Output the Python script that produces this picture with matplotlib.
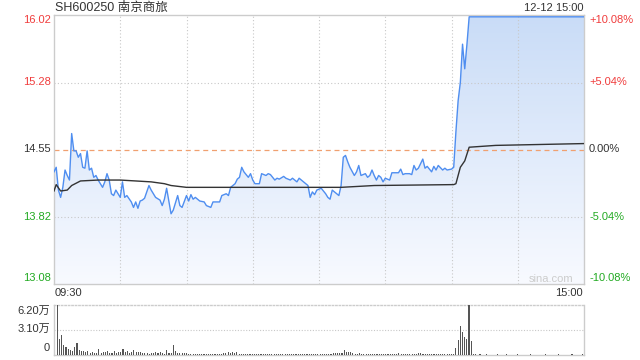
import numpy as np
import matplotlib
matplotlib.use("Agg")
import matplotlib.pyplot as plt
from matplotlib.colors import LinearSegmentedColormap

plt.rcParams['font.family'] = ['Liberation Sans', 'Noto Sans CJK SC', 'DejaVu Sans']

# price readings (minute index from 09:30, price)
price_min = [0, 1, 2, 3, 4, 5, 6, 7, 8, 9, 10, 11, 12, 13, 14, 15, 16, 17, 18, 19, 20, 22, 23, 24, 25,
             26, 27, 28, 30, 31, 32, 33, 35, 36, 37, 38, 39, 40, 41, 43, 44, 46, 48, 49, 50, 51, 53, 54,
             56, 57, 58, 60, 61, 62, 63, 64, 66, 68, 69, 71, 72, 74, 75, 76, 78, 79, 80, 82, 83, 84, 85,
             86, 88, 89, 90, 91, 93, 94, 96, 97, 98, 100, 101, 102, 104, 105, 107, 108, 110, 111, 113,
             115, 116, 117, 118, 119, 121, 123, 124, 125, 126, 128, 129, 130, 131, 132, 133, 134, 136,
             137, 138, 139, 141, 142, 143, 144, 145, 146, 147, 148, 149, 150, 152, 153, 156, 157, 158,
             159, 161, 162, 163, 164, 165, 167, 168, 169, 171, 172, 173, 174, 176, 177, 178, 180, 181,
             182, 183, 184, 185, 186, 187, 188, 240]
price = [14.31, 14.36, 14.11, 14.03, 14.14, 14.33, 14.27, 14.22, 14.73, 14.54, 14.54, 14.47, 14.51,
         14.36, 14.35, 14.54, 14.33, 14.35, 14.25, 14.27, 14.22, 14.14, 14.20, 14.29, 14.22, 14.07,
         14.05, 14.11, 14.03, 14.20, 14.03, 14.05, 13.98, 13.92, 13.98, 13.91, 13.99, 14.00, 14.02,
         14.16, 14.11, 14.03, 14.00, 13.94, 14.01, 14.13, 13.85, 13.89, 14.05, 13.94, 13.92, 14.05,
         13.99, 14.06, 14.01, 14.03, 13.99, 13.98, 13.94, 13.92, 13.98, 13.98, 13.98, 14.05, 14.07,
         14.05, 14.14, 14.18, 14.23, 14.25, 14.36, 14.31, 14.25, 14.29, 14.22, 14.18, 14.18, 14.29,
         14.27, 14.29, 14.28, 14.22, 14.24, 14.23, 14.26, 14.24, 14.22, 14.24, 14.20, 14.24, 14.20,
         14.16, 14.03, 14.09, 14.06, 14.11, 14.13, 14.07, 14.03, 14.01, 14.11, 14.07, 14.05, 14.16,
         14.47, 14.49, 14.42, 14.36, 14.27, 14.31, 14.38, 14.27, 14.29, 14.25, 14.27, 14.33, 14.27,
         14.22, 14.27, 14.25, 14.20, 14.24, 14.22, 14.30, 14.30, 14.34, 14.28, 14.29, 14.29, 14.28,
         14.38, 14.33, 14.35, 14.45, 14.35, 14.37, 14.31, 14.37, 14.33, 14.38, 14.33, 14.35, 14.33,
         14.34, 14.36, 14.75, 15.09, 15.29, 15.71, 15.44, 15.71, 16.01, 16.01]

# average price line
avg_min = [0, 1, 3, 6, 8, 12, 20, 30, 44, 50, 53, 60, 100, 130, 145, 181, 182, 184, 186, 188, 200, 240]
avg = [14.10, 14.17, 14.10, 14.11, 14.16, 14.21, 14.22, 14.22, 14.20, 14.18, 14.16, 14.14, 14.14,
       14.14, 14.16, 14.17, 14.18, 14.36, 14.43, 14.58, 14.60, 14.62]

# volume per minute (万)
volume = [6.20, 1.98, 2.48, 1.24, 0.95, 0.74, 0.62, 0.50, 1.03, 1.45,
          0.62, 0.50, 0.50, 0.40, 0.50, 0.25, 0.33, 0.29, 0.29, 0.74,
          0.25, 0.33, 0.41, 0.50, 0.29, 0.21, 0.50, 0.29, 0.33, 0.41,
          0.74, 0.41, 0.50, 0.29, 0.41, 0.62, 0.41, 0.41, 0.41, 0.20,
          0.20, 0.25, 0.15, 0.20, 0.29, 0.33, 0.25, 0.40, 0.20, 0.17,
          0.62, 0.30, 0.25, 1.24, 0.50, 0.30, 0.30, 0.25, 0.20, 0.20,
          0.15, 0.12, 0.18, 0.10, 0.12, 0.15, 0.10, 0.12, 0.10, 0.08,
          0.10, 0.15, 0.12, 0.10, 0.10, 0.12, 0.20, 0.25, 0.33, 0.29,
          0.41, 0.25, 0.33, 0.12, 0.10, 0.15, 0.12, 0.10, 0.12, 0.10,
          0.15, 0.10, 0.12, 0.10, 0.10, 0.08, 0.12, 0.15, 0.10, 0.12,
          0.10, 0.12, 0.15, 0.10, 0.08, 0.10, 0.12, 0.10, 0.15, 0.12,
          0.10, 0.12, 0.10, 0.08, 0.10, 0.10, 0.12, 0.15, 0.10, 0.10,
          0.12, 0.10, 0.15, 0.10, 0.12, 0.10, 0.20, 0.25, 0.20, 0.30,
          0.25, 0.62, 0.41, 0.41, 0.33, 0.20, 0.15, 0.12, 0.20, 0.15,
          0.12, 0.10, 0.15, 0.10, 0.10, 0.12, 0.15, 0.10, 0.12, 0.10,
          0.15, 0.10, 0.12, 0.10, 0.15, 0.12, 0.20, 0.15, 0.10, 0.12,
          0.10, 0.12, 0.15, 0.10, 0.12, 0.25, 0.20, 0.15, 0.10, 0.12,
          0.10, 0.12, 0.10, 0.08, 0.10, 0.12, 0.10, 0.15, 0.12, 0.10,
          0.15, 0.10, 0.83, 1.86, 3.60, 2.90, 2.20, 2.00, 6.20, 1.74,
          0.08, 0.10, 0.06, 0.08, 0.05, 0.06, 0.08, 0.05, 0.06, 0.05,
          0.06, 0.08, 0.05, 0.06, 0.05, 0.08, 0.06, 0.05, 0.06, 0.05,
          0.08, 0.06, 0.05, 0.06, 0.05, 0.06, 0.08, 0.05, 0.06, 0.05,
          0.06, 0.05, 0.06, 0.08, 0.05, 0.06, 0.05, 0.06, 0.05, 0.08,
          0.06, 0.05, 0.06, 0.05, 0.06, 0.08, 0.05, 0.06, 0.05, 0.06, 0.10]

pre_close = 14.55
y_levels = [16.02, 15.28, 14.55, 13.82, 13.08]
y_labels = ["16.02", "15.28", "14.55", "13.82", "13.08"]
pct_labels = ["+10.08%", "+5.04%", "0.00%", "-5.04%", "-10.08%"]
vol_ticks = [6.20, 3.10, 0]
vol_labels = ["6.20万", "3.10万", "0"]

RED = '#f03c3c'
GREEN = '#22aa22'
DARK = '#333333'
GRID = '#c8c8c8'
W, H = 640, 360


def px(x, y):
    return x / W, 1 - y / H


fig = plt.figure(figsize=(6.4, 3.6), dpi=100)

# main price panel
ax = fig.add_axes([54 / W, 1 - 284 / H, 530 / W, 269 / H])
ax.set_xlim(0, 240)
ax.set_ylim(13.08, 16.03)

poly = ax.fill_between(price_min, price, 13.08, color='none', lw=0)
cmap = LinearSegmentedColormap.from_list('fill', ['#f8faff', '#c9dcf7'])
grad = np.linspace(0, 1, 256).reshape(-1, 1)
im = ax.imshow(grad, cmap=cmap, extent=[0, 240, 13.08, 16.03], origin='lower',
               aspect='auto', zorder=1)
im.set_clip_path(poly.get_paths()[0], transform=ax.transData)

for yv in [15.28, 13.82]:
    ax.axhline(yv, color=GRID, lw=0.8, ls=(0, (1, 2)), zorder=2)
for xv in range(30, 240, 30):
    ax.axvline(xv, color=GRID, lw=0.8, ls=(0, (1, 2)), zorder=2)
ax.axhline(pre_close, color='#f0a070', lw=0.9, ls=(0, (4, 3)), zorder=2)

ax.plot(price_min, price, color='#4f8ef0', lw=1.0, zorder=4)
ax.plot(avg_min, avg, color='#333333', lw=1.0, zorder=5)

ax.set_xticks([])
ax.set_yticks([])
for s in ax.spines.values():
    s.set_color('#cccccc')
    s.set_linewidth(1)

# volume panel
axv = fig.add_axes([54 / W, 1 - 355 / H, 530 / W, 50 / H])
axv.set_xlim(-1.5, 240.5)
axv.set_ylim(0, 6.20)
axv.bar(range(len(volume)), volume, width=0.5, color='#555555', zorder=3)
axv.axhline(3.10, color=GRID, lw=0.8, ls=(0, (1, 1.5)), zorder=1)
axv.set_xticks([])
axv.set_yticks([])
for s in axv.spines.values():
    s.set_color('#cccccc')
    s.set_linewidth(1)
axv.spines['top'].set_linestyle((0, (1, 1.5)))

# texts
fig.text(*px(55, 8), "SH600250 南京商旅", fontsize=9, color=DARK, ha='left', va='center')
fig.text(*px(583, 8), "12-12 15:00", fontsize=8, color=DARK, ha='right', va='center')

label_y = [20, 82, 149, 217, 278]
colors = [RED, RED, DARK, GREEN, GREEN]
for ly, lab, pl, c in zip(label_y, y_labels, pct_labels, colors):
    fig.text(*px(51, ly), lab, fontsize=8, color=c, ha='right', va='center')
    fig.text(*px(589, ly), pl, fontsize=8, color=c, ha='left', va='center')

fig.text(*px(55, 293), "09:30", fontsize=8, color=DARK, ha='left', va='center')
fig.text(*px(583, 293), "15:00", fontsize=8, color=DARK, ha='right', va='center')
fig.text(*px(573, 279), "sina.com", fontsize=8, color='#cccccc', ha='right', va='center')

for vy, vl in zip([311, 329, 348], vol_labels):
    fig.text(*px(50, vy), vl, fontsize=8, color=DARK, ha='right', va='center')

fig.savefig("out.png", dpi=100, facecolor='white')
